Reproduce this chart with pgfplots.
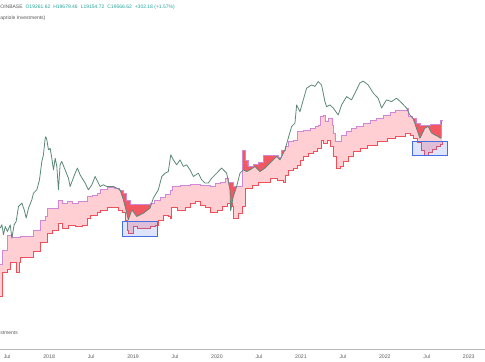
\documentclass[border=0pt]{standalone}
\usepackage{pgfplots}
\usepackage{pgfplotstable}
\pgfplotsset{compat=1.18}
\usepgfplotslibrary{fillbetween}
\usepackage{fontspec}
\setmainfont{Liberation Sans}
\definecolor{bandpink}{RGB}{255,207,212}
\definecolor{upline}{RGB}{210,135,212}
\definecolor{loline}{RGB}{240,80,90}
\definecolor{redfill}{RGB}{242,88,98}
\definecolor{priceline}{RGB}{92,136,122}
\definecolor{boxblue}{RGB}{70,110,230}
\definecolor{tvgreen}{RGB}{38,166,154}
\definecolor{tvgray}{RGB}{90,90,90}
\pgfplotstableread{
x y
2017.417 1160
2017.437 1615
2017.497 2254
2017.556 2110
2017.655 2170
2017.810 2519
2017.893 3145
2017.953 3390
2017.973 4080
2018.111 4905
2018.151 4560
2018.211 4730
2018.271 4560
2018.349 4730
2018.449 5290
2018.509 5480
2018.568 5690
2018.607 6250
2018.691 6540
2018.774 6390
2018.834 6130
2018.881 5720
2018.917 4905
2018.965 4480
2019.203 4580
2019.250 4905
2019.322 5240
2019.381 5600
2019.441 6130
2019.465 6700
2019.560 6850
2019.679 7000
2019.798 6850
2019.917 6600
2019.977 7120
2020.036 7300
2020.096 7950
2020.131 7170
2020.191 6600
2020.306 14900
2020.334 11930
2020.369 10450
2020.429 10910
2020.488 11400
2020.548 13330
2020.726 12750
2020.762 14900
2020.810 16300
2020.845 18230
2020.905 18600
2020.953 22600
2021.024 23200
2021.107 24100
2021.167 25100
2021.203 26000
2021.227 31400
2021.262 32400
2021.286 27900
2021.322 29900
2021.369 26000
2021.387 21700
2021.405 17900
2021.485 20800
2021.544 22600
2021.604 24100
2021.663 25100
2021.738 26900
2021.821 29000
2021.901 29900
2021.976 32400
2022.060 34500
2022.119 36200
2022.262 37800
2022.277 31400
2022.322 29900
2022.369 27200
2022.417 25500
2022.476 26000
2022.536 26600
2022.655 28500
2022.679 29000
}\bandup
\pgfplotstableread{
x y
2017.417 570
2017.441 970
2017.500 1036
2017.536 1210
2017.607 970
2017.643 1210
2017.655 1380
2017.810 1560
2017.893 1890
2017.977 2350
2018.036 2519
2018.107 2920
2018.155 2600
2018.226 2815
2018.310 2700
2018.393 2815
2018.453 3290
2018.488 3515
2018.572 3680
2018.607 3928
2018.691 4110
2018.822 3928
2018.869 3680
2018.905 3145
2018.929 2519
2018.944 2350
2019.000 2710
2019.048 2630
2019.203 2710
2019.262 2815
2019.298 3145
2019.357 3515
2019.417 3390
2019.441 3290
2019.461 4110
2019.524 3928
2019.619 4110
2019.679 4590
2019.738 4730
2019.798 4390
2019.857 4200
2019.917 3760
2020.000 3928
2020.060 4260
2020.119 4590
2020.179 4260
2020.191 3290
2020.250 3640
2020.298 4260
2020.334 6390
2020.417 6850
2020.488 7170
2020.572 7300
2020.631 7950
2020.715 7650
2020.786 7300
2020.810 8550
2020.845 9550
2020.905 10000
2020.953 10680
2020.988 11930
2021.024 12850
2021.084 13900
2021.143 14400
2021.191 15500
2021.247 18600
2021.262 17300
2021.310 18600
2021.346 16100
2021.381 12850
2021.425 9920
2021.465 10300
2021.500 11500
2021.560 12850
2021.619 14400
2021.703 15500
2021.786 16650
2021.905 17900
2022.024 19320
2022.119 20340
2022.238 21750
2022.298 20800
2022.334 19450
2022.381 17800
2022.429 14900
2022.464 13330
2022.512 14230
2022.560 15200
2022.607 16300
2022.655 17000
2022.679 17800
}\bandlo
\pgfplotstableread{
x y
2017.417 2616
2017.437 2815
2017.456 2254
2017.477 2710
2017.504 2425
2017.536 2815
2017.556 2095
2017.583 2815
2017.607 3030
2017.635 4230
2017.675 4560
2017.703 3928
2017.727 3270
2017.754 4080
2017.794 4905
2017.813 5690
2017.854 6130
2017.885 7650
2017.913 11500
2017.932 13330
2017.953 19320
2017.961 19990
2017.973 18600
2017.992 14900
2018.012 15460
2018.032 12380
2018.052 9550
2018.072 12380
2018.092 10300
2018.111 6130
2018.131 10680
2018.151 11500
2018.190 9550
2018.230 7950
2018.250 6600
2018.310 8870
2018.337 9940
2018.369 8550
2018.429 7120
2018.468 6130
2018.509 6850
2018.548 8240
2018.568 7650
2018.607 6600
2018.647 6850
2018.687 6600
2018.766 6600
2018.845 6130
2018.885 4900
2018.925 3660
2018.944 3145
2018.985 3930
2019.044 3390
2019.123 3640
2019.202 4080
2019.242 5100
2019.301 6130
2019.342 8240
2019.381 8870
2019.420 9200
2019.449 13330
2019.480 11930
2019.520 10680
2019.560 11930
2019.599 10300
2019.639 10680
2019.679 9550
2019.718 8240
2019.778 8870
2019.818 7650
2019.857 7120
2019.897 7120
2019.937 7950
2019.996 8870
2020.056 9940
2020.115 8870
2020.155 6130
2020.163 3840
2020.194 5290
2020.234 6600
2020.274 8870
2020.313 9550
2020.354 9200
2020.393 9550
2020.453 10300
2020.512 9200
2020.572 9940
2020.631 11100
2020.711 12850
2020.750 11930
2020.810 14900
2020.849 19320
2020.890 25100
2020.929 27000
2020.949 40500
2020.988 34860
2021.068 58700
2021.127 63200
2021.167 61000
2021.206 68000
2021.246 63200
2021.286 43600
2021.306 38900
2021.345 40500
2021.385 37800
2021.444 32400
2021.485 40500
2021.544 48700
2021.604 45300
2021.703 66000
2021.742 68800
2021.801 63200
2021.861 52800
2021.921 46900
2021.961 37800
2022.020 45300
2022.080 43600
2022.139 47000
2022.199 42500
2022.258 37800
2022.298 32400
2022.337 29900
2022.377 24100
2022.396 21700
2022.417 19320
2022.437 20800
2022.476 24100
2022.516 25100
2022.556 21700
2022.595 20800
2022.635 20000
2022.663 19320
2022.675 19566
}\pricedata
\begin{document}
\begin{tikzpicture}
\begin{axis}[
  at={(0pt,11pt)}, anchor=south west,
  scale only axis, width=485pt, height=349pt,
  xmin=2017.417, xmax=2023.191,
  ymode=log, ymin=178.9, ymax=417600,
  axis x line=bottom, axis y line=none,
  axis line style={draw=gray!55, -},
  ytick=\empty,
  xtick={2017.5,2018,2018.5,2019,2019.5,2020,2020.5,2021,2021.5,2022,2022.5,2023},
  xticklabels={Jul,2018,Jul,2019,Jul,2020,Jul,2021,Jul,2022,Jul,2023},
  major tick length=0pt,
  xticklabel style={font=\fontsize{5.2}{6}\selectfont, text=tvgray, yshift=-2.5pt},
  clip=true,
]
\addplot[const plot, draw=none, name path=up] table {\bandup};
\addplot[const plot, draw=none, name path=lo] table {\bandlo};
\addplot[draw=none, name path=pr] table {\pricedata};
\addplot[draw=none, name path=top] coordinates {(2017.417,417600) (2023.191,417600)};
% fills
\addplot[bandpink] fill between[of=up and lo];
\addplot[redfill] fill between[of=up and pr];
\addplot[white] fill between[of=up and top];
% band lines
\addplot[const plot, upline, line width=0.55pt] table {\bandup};
\addplot[const plot, loline, line width=0.55pt] table {\bandlo};
% price line
\addplot[priceline, line width=0.8pt, line join=round] table {\pricedata};
% highlight boxes
\addplot[draw=boxblue, line width=0.7pt, fill=boxblue, fill opacity=0.18] coordinates {
(2018.873,2170) (2019.290,2170) (2019.290,3028) (2018.873,3028)} --cycle;
\addplot[draw=boxblue, line width=0.7pt, fill=boxblue, fill opacity=0.18] coordinates {
(2022.330,13120) (2022.747,13120) (2022.747,17910) (2022.330,17910)} --cycle;
\end{axis}
\node[anchor=west, inner sep=0pt, font=\fontsize{5}{6}\selectfont] at (0pt,353pt)
  {\textcolor{tvgray}{OINBASE}\hspace{3pt}\textcolor{tvgreen}{O19261.62\hspace{3pt}H19679.46\hspace{3pt}L19154.72\hspace{3pt}C19566.62\hspace{3pt}+302.18 (+1.57\%)}};
\node[anchor=west, inner sep=0pt, font=\fontsize{5}{6}\selectfont, text=tvgray] at (0pt,342pt) {apriole Investments)};
\node[anchor=west, inner sep=0pt, font=\fontsize{5}{6}\selectfont, text=tvgray] at (0pt,27pt) {stments};
\path (0pt,0pt) rectangle (485pt,360pt);
\end{tikzpicture}
\end{document}
